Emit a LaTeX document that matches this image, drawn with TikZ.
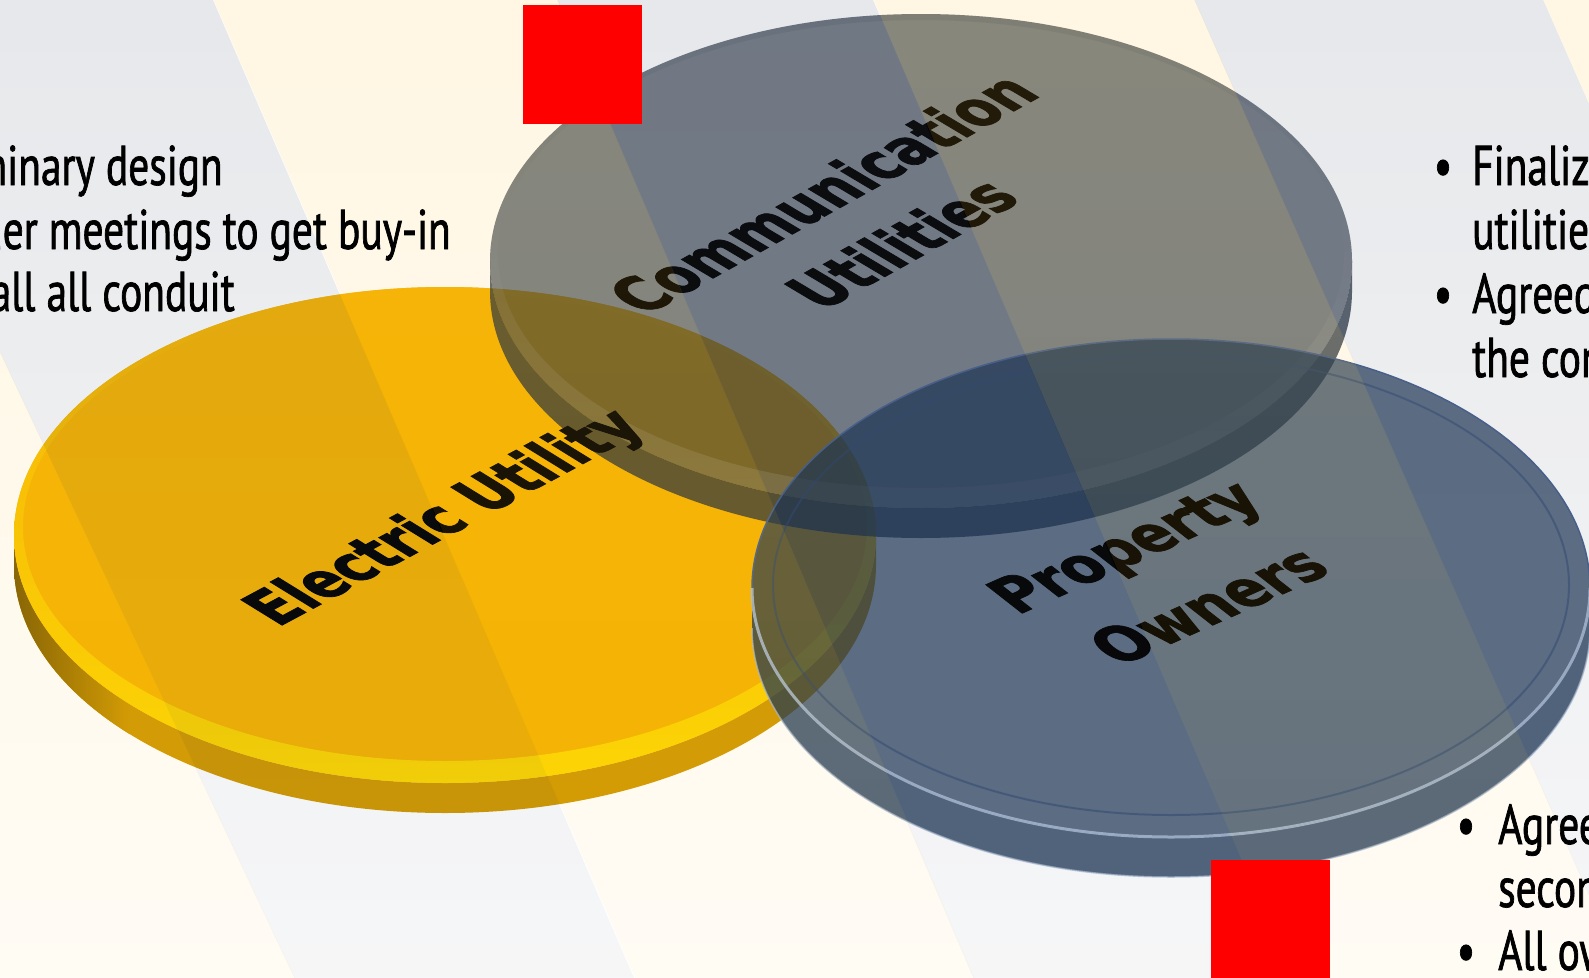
\documentclass[tikz,border=0pt]{standalone}
\usepackage{fontspec}
\setmainfont{PT Sans}[FakeStretch=0.74, FakeBold=1.2]
\newfontfamily\lblfont{DejaVu Sans}[FakeStretch=0.76, BoldFeatures={FakeBold=1.4}]
\usetikzlibrary{fadings}
\definecolor{yface}{RGB}{245,178,0}
\definecolor{ylip}{RGB}{252,214,0}
\definecolor{yside}{RGB}{208,152,0}
\definecolor{ysidedark}{RGB}{125,92,0}
\definecolor{gface}{RGB}{31,44,60}
\definecolor{pface}{RGB}{22,48,81}
\definecolor{plip}{RGB}{170,188,212}
\definecolor{pedge}{RGB}{70,95,140}
\definecolor{pring}{RGB}{45,70,112}
\definecolor{bandG}{RGB}{95,102,122}
\definecolor{bandC}{RGB}{255,202,68}
\definecolor{sqred}{RGB}{255,0,0}
\tikzfading[name=fadedown, top color=transparent!0, bottom color=transparent!65]
\tikzset{
  bandg/.style={fill=bandG, fill opacity=0.15, path fading=fadedown},
  bandc/.style={fill=bandC, fill opacity=0.15, path fading=fadedown},
  btext/.style={font=\fontsize{56}{67}\selectfont, inner sep=0pt, text=black},
  lbl/.style={font=\lblfont\bfseries\fontsize{83}{95}\selectfont, inner sep=0pt, transform shape, text=black},
  redsq/.style={fill=sqred, draw=none},
}
\begin{document}
\begin{tikzpicture}[x=1pt,y=-1pt]
\useasboundingbox (0,0) rectangle (1589,977);
\clip (0,0) rectangle (1589,977);
\fill[white] (0,0) rectangle (1589,977);

% ---------- Electric Utility disc (yellow)
\begin{scope}
  \clip (14,535) -- (14,565) arc[start angle=180,end angle=0,x radius=431,y radius=248]
        -- (876,535) arc[start angle=0,end angle=180,x radius=431,y radius=248] -- cycle;
  \fill[yside] (0,500) rectangle (900,830);
  \shade[left color=ysidedark, right color=yside] (14,500) rectangle (130,830);
\end{scope}
\fill[yface] (445,535) ellipse[x radius=431, y radius=248];
\shade[even odd rule, top color=yface, bottom color=ylip]
  (445,535) ellipse[x radius=431, y radius=248] (445,527) ellipse[x radius=422, y radius=234];

% ---------- Communication Utilities disc (grey)
\fill[gface, fill opacity=0.74] (490,261) -- (490,291) arc[start angle=180,end angle=0,x radius=431,y radius=247]
   -- (1352,261) arc[start angle=0,end angle=180,x radius=431,y radius=247] -- cycle;
\fill[gface, fill opacity=0.62] (921,261) ellipse[x radius=431, y radius=247];
\shade[even odd rule, top color=gface, bottom color=white, opacity=0.12]
  (921,261) ellipse[x radius=431, y radius=247] (921,254) ellipse[x radius=423, y radius=234];

% ---------- Property Owners disc (blue)
\fill[pface, fill opacity=0.75] (752,588) -- (752,628) arc[start angle=180,end angle=0,x radius=419,y radius=249]
   -- (1590,588) arc[start angle=0,end angle=180,x radius=419,y radius=249] -- cycle;
\fill[pface, fill opacity=0.70] (1171,588) ellipse[x radius=419, y radius=249];
\draw[pring, line width=2pt, opacity=0.5] (1171,585) ellipse[x radius=398, y radius=230];
\draw[pedge, line width=1.5pt] (752,588) arc[start angle=180,end angle=360,x radius=419,y radius=249];
\draw[plip, line width=3pt, opacity=0.85] (752,588) arc[start angle=180,end angle=0,x radius=419,y radius=249];
\draw[plip, line width=1.5pt, opacity=0.7] (752,628) arc[start angle=180,end angle=0,x radius=419,y radius=249];

% ---------- labels on the discs
\begin{scope}[shift={(447,519)}, yscale=0.575]
  \node[lbl, rotate=43] (elec) {Electric Utility};
\end{scope}
\begin{scope}[shift={(822,193)}, yscale=0.575]
  \node[lbl, rotate=44] (comm) {Communication};
\end{scope}
\begin{scope}[shift={(901,243)}, yscale=0.575]
  \node[lbl, rotate=44] (util) {Utilities};
\end{scope}
\begin{scope}[shift={(1129,550)}, yscale=0.59]
  \node[lbl, rotate=37] (prop) {Property};
\end{scope}
\begin{scope}[shift={(1208,605)}, yscale=0.59]
  \node[lbl, rotate=37] (own) {Owners};
\end{scope}

% ---------- diagonal bands (over everything but the bullet text)
\fill[bandc] (-300,-10) -- (-168.7,-10) -- (301.3,990) -- (-300,990) -- cycle;
\fill[bandg] (-168.7,-10) -- (210.7,-10) -- (640.7,990) -- (301.3,990) -- cycle;
\fill[bandc] (210.7,-10) -- (554.75,-10) -- (979.75,990) -- (640.7,990) -- cycle;
\fill[bandg] (554.75,-10) -- (870.73,-10) -- (1297.73,990) -- (979.75,990) -- cycle;
\fill[bandc] (870.73,-10) -- (1191.6,-10) -- (1631.6,990) -- (1297.73,990) -- cycle;
\fill[bandg] (1191.6,-10) -- (1540.6,-10) -- (1980.6,990) -- (1631.6,990) -- cycle;
\fill[bandc] (1540.6,-10) -- (2100,-10) -- (2100,990) -- (1980.6,990) -- cycle;

% ---------- bullet text
\node[btext, anchor=base east] (l1) at (223,185) {• Preliminary design};
\node[btext, anchor=base east] (l2) at (451,249) {• Stakeholder meetings to get buy-in};
\node[btext, anchor=base east] (l3) at (235,311) {• Install all conduit};

\node[btext, anchor=base] (rb1) at (1443,185) {•};
\node[btext, anchor=base west] (r1) at (1472,185) {Finalize};
\node[btext, anchor=base west] (r2) at (1472,249) {utilities};
\node[btext, anchor=base] (rb2) at (1443,313) {•};
\node[btext, anchor=base west] (r3) at (1472,313) {Agreed};
\node[btext, anchor=base west] (r4) at (1472,377) {the con};

\node[btext, anchor=base] (sb1) at (1466,844) {•};
\node[btext, anchor=base west] (s1) at (1498,844) {Agreed};
\node[btext, anchor=base west] (s2) at (1498,907) {second};
\node[btext, anchor=base] (sb2) at (1466,970) {•};
\node[btext, anchor=base west] (s3) at (1498,970) {All owners};

% ---------- red squares
\fill[redsq] (523,5) rectangle (642,124);
\fill[redsq] (1211,860) rectangle (1330,990);
\end{tikzpicture}
\end{document}
